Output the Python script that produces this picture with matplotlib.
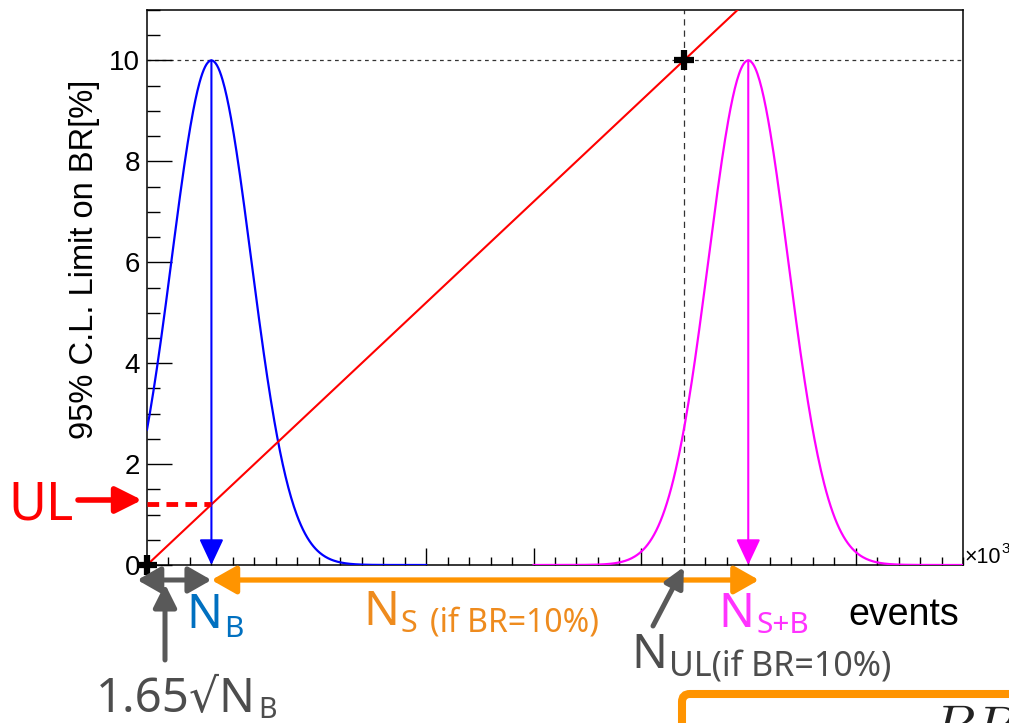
import numpy as np
import matplotlib
matplotlib.use("Agg")
import matplotlib.pyplot as plt
from matplotlib.transforms import Affine2D, blended_transform_factory
from matplotlib.patches import FancyArrowPatch, FancyBboxPatch

# ---- figure geometry (pixels) ----
W, H = 1009, 723
DPI = 100

# ---- axis ranges and ticks (x in units of 10^3 events) ----
x_range = [0.0, 38.0]
y_range = [0.0, 11.0]
x_minor_ticks = list(range(0, 39))
x_major_ticks = [13, 18, 23, 28, 33]
y_major_ticks = [0, 2, 4, 6, 8, 10]
y_tick_labels = ["0", "2", "4", "6", "8", "10"]
y_minor_ticks = [0.5 * k for k in range(0, 23)]

# ---- physics quantities ----
n_b = 3.0            # expected background events
n_ul = 25.0          # events at which the limit reaches BR = 10 %
n_sb = 28.0          # signal + background events (BR = 10 %)
br_ref = 10.0        # reference branching ratio [%]
peak_height = 10.0   # drawn height of both distributions
sigma_b = 1.85       # width of the background distribution
sigma_sb = 1.85      # width of the signal+background distribution
bkg_span = [0.0, 13.0]
sb_span = [18.0, 38.0]

# limit on BR as a function of the number of events
limit_x = np.array([0.0, y_range[1] * n_ul / br_ref])
limit_y = br_ref * limit_x / n_ul
ul_value = br_ref * n_b / n_ul

def gauss(x, mu, sig, amp):
    return amp * np.exp(-0.5 * ((x - mu) / sig) ** 2)

bkg_x = np.linspace(bkg_span[0], bkg_span[1], 400)
sb_x = np.linspace(sb_span[0], sb_span[1], 400)

# ---- colours ----
c_blue, c_mag, c_red = "#0000FF", "#FF00FF", "#FF0000"
c_orange = "#FF9400"
c_orange_txt = "#EE8B1E"
c_blue_txt = "#0070C0"
c_mag_txt = "#FF33FF"
c_gray = "#595959"
c_gray_txt = "#4D4D4D"

ann_font = ["Noto Sans", "DejaVu Sans"]
axis_font = ["Liberation Sans", "DejaVu Sans"]

fig = plt.figure(figsize=(W / DPI, H / DPI), dpi=DPI)
fig.patch.set_facecolor("white")

# pixel transform with origin at the top-left corner
px = Affine2D().scale(1, -1).translate(0, H)

ax = fig.add_axes([147 / W, (H - 565) / H, 816 / W, 555 / H])
ax.set_xlim(*x_range)
ax.set_ylim(*y_range)
for s in ax.spines.values():
    s.set_linewidth(1.1)
    s.set_color("black")

ax.set_xticks(x_major_ticks)
ax.set_xticks(x_minor_ticks, minor=True)
ax.set_yticks(y_major_ticks)
ax.set_yticklabels(y_tick_labels, fontfamily=axis_font, fontsize=20)
ax.set_yticks(y_minor_ticks, minor=True)
ax.tick_params(axis="x", which="major", direction="in", length=12, width=1.0,
               labelbottom=False, color="black")
ax.tick_params(axis="x", which="minor", direction="in", length=6, width=1.0)
ax.tick_params(axis="y", which="major", direction="in", length=18, width=1.0,
               pad=5)
ax.tick_params(axis="y", which="minor", direction="in", length=9, width=1.0)

ax.set_ylabel("95% C.L. Limit on BR[%]", fontfamily=axis_font, fontsize=23.5)
ax.yaxis.set_label_coords(-0.058, 0.55)

# guide lines at BR = 10 %
ax.plot(x_range, [br_ref, br_ref], color="#333333", lw=0.9,
        ls=(0, (3, 3)), zorder=1)
ax.plot([n_ul, n_ul], y_range, color="#333333", lw=0.9,
        ls=(0, (5, 4)), zorder=1)

# distributions
ax.plot(bkg_x, gauss(bkg_x, n_b, sigma_b, peak_height), color=c_blue, lw=1.6,
        zorder=3)
ax.plot(sb_x, gauss(sb_x, n_sb, sigma_sb, peak_height), color=c_mag, lw=1.6,
        zorder=3)

# limit line
ax.plot(limit_x, limit_y, color=c_red, lw=1.5, zorder=4)

# arrows from the peaks to the axis
for mu, col in [(n_b, c_blue), (n_sb, c_mag)]:
    ax.annotate("", xy=(mu, 0), xytext=(mu, peak_height),
                arrowprops=dict(arrowstyle="-|>,head_length=1.6,head_width=0.75",
                                mutation_scale=10, color=col, lw=1.5,
                                shrinkA=0, shrinkB=0), zorder=5)

# UL marker line
ax.plot([0, n_b], [ul_value, ul_value], color=c_red, lw=3.5,
        ls=(0, (2.4, 1.5)), solid_capstyle="butt", clip_on=False, zorder=5)

# reference points
ax.plot([0, n_ul], [0, br_ref], ls="none", marker="+", ms=15, mew=4.5,
        color="black", clip_on=False, zorder=6)

# ---- annotation arrows below the axis ----
bx = blended_transform_factory(ax.transData, px)

def arrow(p0, p1, color, lw, style, hl, hw, trans):
    a = FancyArrowPatch(p0, p1, transform=trans,
                        arrowstyle=f"{style},head_length={hl},head_width={hw}",
                        mutation_scale=1, color=color, lw=lw,
                        shrinkA=0, shrinkB=0, clip_on=False, zorder=6)
    fig.add_artist(a)

arrow((-0.45, 580), (n_b, 580), c_gray, 3.6, "<|-|>", 14, 8, bx)
arrow((n_b, 580), (n_sb + 0.5, 580), c_orange, 3.8, "<|-|>", 15, 8.5, bx)
arrow((165, 660), (165, 584), c_gray, 3.6, "-|>", 14, 7, px)
# slanted arrow to N_UL
tip_x = ax.transData.transform((n_ul, 0))[0]
arrow((653, 626), (tip_x, 567), c_gray, 3.6, "-|>", 12, 6, px)
# UL arrow
arrow((78, 500), (142, 500), c_red, 4.0, "-|>", 16, 8, px)

# ---- labels ----
def txt(x, y, s, size, color, family=ann_font, **kw):
    return fig.text(x, y, s, transform=px, fontsize=size, color=color,
                    family=family, ha="left", va="baseline", **kw)

def right_of(t):
    fig.canvas.draw()
    return t.get_window_extent().x1

def sub_label(x, y, base, sub, size, sub_size, color, sub_dy, gap=0):
    t = txt(x, y, base, size, color)
    return t, txt(right_of(t) + gap, y + sub_dy, sub, sub_size, color)

sub_label(186, 628, "N", "B", 34, 21.5, c_blue_txt, 9, gap=2)
t, s = sub_label(363, 625, "N", "S", 34, 22, c_orange_txt, 7, gap=2)
txt(right_of(s) + 12, 632, "(if BR=10%)", 23, c_orange_txt)
sub_label(718, 627, "N", "S+B", 34, 21.5, c_mag_txt, 6, gap=2)
txt(848, 625, "events", 27, "black", family=axis_font)
sub_label(631, 668, "N", "UL(if BR=10%)", 34, 24.5, c_gray_txt, 9, gap=2)
sub_label(96, 712, "1.65\u221aN", "B", 34, 20.5, c_gray_txt, 6, gap=2)
txt(8, 520, "UL", 37.5, c_red)

# axis multiplier
txt(965, 563, "\u00d710", 15.5, "black", family=axis_font)
txt(1001, 553, "3", 11, "black", family=axis_font)

# boxed formula at the lower right
box = FancyBboxPatch((682, -40), 420, (H - 694) + 40,
                     boxstyle="round,pad=0,rounding_size=8",
                     transform=Affine2D(), facecolor="white",
                     edgecolor=c_orange, lw=5.8, clip_on=False, zorder=7)
fig.add_artist(box)
fig.text(931, 745, "$BR$", transform=px, fontsize=40, color="#222222",
         math_fontfamily="cm", ha="left", va="baseline", zorder=8)

fig.savefig("out.png", dpi=DPI)
